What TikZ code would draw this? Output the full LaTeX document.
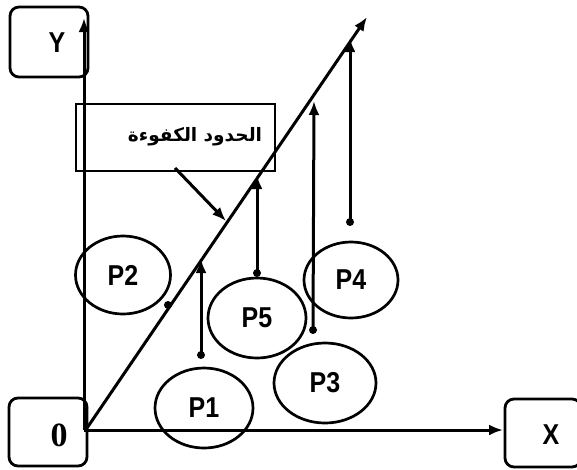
\documentclass[tikz,border=0pt]{standalone}
\usepackage{fontspec}
\setmainfont{Liberation Sans}
\newfontfamily\zerofont{Liberation Serif}
\newfontfamily\arabicfont[Script=Arabic]{DejaVu Sans}
\TeXXeTstate=1
\usetikzlibrary{shapes.geometric,arrows.meta}
\newcommand{\tallt}[1]{\scalebox{1}[1.15]{#1}}
\tikzset{
  ln/.style={line width=3pt},
  tip/.style={-{Latex[length=14pt,width=11pt]}},
  axisbox/.style={draw,line width=2.8pt,rounded corners=9pt,inner sep=0pt},
  pbubble/.style={draw,line width=2.7pt,ellipse,inner sep=0pt,font=\bfseries\fontsize{25}{25}\selectfont},
  pdot/.style={circle,fill=black,inner sep=0pt,minimum size=8pt},
  lbl/.style={font=\bfseries\fontsize{25}{25}\selectfont}
}
\begin{document}
\begin{tikzpicture}[x=1pt,y=-1pt]
\useasboundingbox (0,0) rectangle (577,469);

% corner boxes of the axes
\node[axisbox,minimum width=78pt,minimum height=70pt] (ybox) at (49,42) {};
\node[lbl] (ylab) at (57,43) {\tallt{Y}};
\node[axisbox,minimum width=78pt,minimum height=68pt] (obox) at (48,432) {};
\node[font=\zerofont\bfseries\fontsize{34}{34}\selectfont] (olab) at (59,435) {0};
\node[axisbox,minimum width=76pt,minimum height=68pt] (xbox) at (543,433) {};
\node[lbl] (xlab) at (551,435) {\tallt{X}};

% caption box for the frontier
\node[draw,line width=2.8pt,minimum width=199pt,minimum height=67pt,inner sep=0pt] (capbox) at (175.5,137.5) {};
\node (captxt) at (195,137) {\arabicfont\bfseries\fontsize{18.5}{18.5}\selectfont\beginR الحدود الكفوءة\endR};

% axes and frontier line
\coordinate (origin) at (84,430);
\coordinate (yend) at (84,18);
\coordinate (xend) at (503,430);
\coordinate (fstart) at (87,428);
\coordinate (fend) at (367,17);
\draw[ln,tip] (origin) -- (yend);
\draw[ln,tip] (origin) -- (xend);
\draw[ln,tip] (fstart) -- (fend);

% portfolios
\node[pbubble,minimum width=95pt,minimum height=78pt] (p2) at (123,275) {\tallt{P2}};
\node[pbubble,minimum width=98pt,minimum height=80pt] (p1) at (204,408) {\tallt{P1}};
\node[pbubble,minimum width=98pt,minimum height=80pt] (p5) at (257,318) {\tallt{P5}};
\node[pbubble,minimum width=94pt,minimum height=76pt] (p4) at (351,280) {\tallt{P4}};
\node[pbubble,minimum width=102pt,minimum height=80pt] (p3) at (325,383) {\tallt{P3}};

% points and their moves up to the frontier
\node[pdot] (d2) at (168,305) {};
\node[pdot] (d1) at (201,355) {};
\node[pdot] (d5) at (257,273) {};
\node[pdot] (d3) at (313,330) {};
\node[pdot] (d4) at (350,222) {};
\coordinate (t1) at (201,259);
\coordinate (t5) at (257,175);
\coordinate (t3) at (314,101);
\coordinate (t4) at (350,38);
\draw[ln,tip] (d1.center) -- (t1);
\draw[ln,tip] (d5.center) -- (t5);
\draw[ln,tip] (d3.center) -- (t3);
\draw[ln,tip] (d4.center) -- (t4);

% pointer from the caption to the frontier
\coordinate (cap0) at (175,168);
\coordinate (cap1) at (226,221);
\draw[ln,tip] (cap0) -- (cap1);
\end{tikzpicture}
\end{document}
